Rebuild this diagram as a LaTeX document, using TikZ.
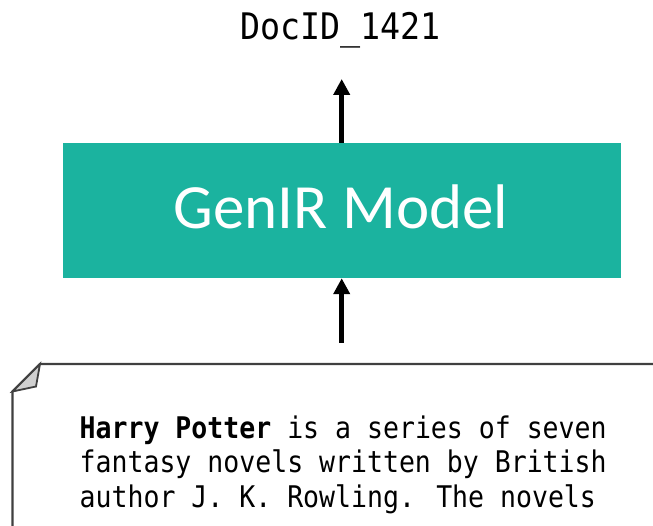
\documentclass[tikz,border=0pt]{standalone}
\usepackage{fontspec}
\usetikzlibrary{arrows.meta}
\newfontfamily\boxfont{Carlito}
\newfontfamily\codefont[FakeStretch=0.91]{DejaVu Sans Mono}
\newfontfamily\bodyfont[FakeStretch=0.89]{DejaVu Sans Mono}
\definecolor{genteal}{RGB}{27,179,159}
\definecolor{notegray}{RGB}{64,64,64}
\definecolor{flapgray}{RGB}{208,208,208}
\tikzset{
  modelbox/.style={fill=genteal, draw=none, inner sep=0pt},
  flow/.style={line width=4.5pt, -{Triangle[width=16pt,length=16pt]}},
  codeline/.style={inner sep=0pt, anchor=base west, font=\bodyfont\fontsize{29.8}{34.5}\selectfont},
  notebox/.style={draw=notegray, line width=2.4pt, fill=white, line join=miter},
}
\begin{document}
\begin{tikzpicture}[x=1pt,y=1pt]
\useasboundingbox (0,0) rectangle (653,526);
% model box
\path[modelbox] (63,248) rectangle (621,383);
\node[inner sep=0pt, minimum width=558pt, minimum height=135pt] (model) at (342,315.5) {};
\node[inner sep=0pt, anchor=base, text=white, font=\boxfont\fontsize{63}{70}\selectfont] (modeltxt) at (341,297) {GenIR Model};
% doc id
\node[inner sep=0pt, anchor=base, font=\codefont\fontsize{36.6}{40}\selectfont] (docid) at (340.5,486) {DocID\_1421};
\coordinate (tip) at (341.7,447);
% note
\draw[notebox] (40,162) -- (660,162) -- (660,-10) -- (12.5,-10) -- (12.5,134.5) -- cycle;
\draw[notebox, fill=flapgray, line width=1.8pt] (40,162) -- (36,139.5) -- (12.5,134.5) -- cycle;
\coordinate (src) at (341.7,183);
\node[codeline] (l1) at (79.5,87) {\textbf{Harry Potter} is a series of seven};
\node[codeline] (l2) at (79.5,53) {fantasy novels written by British};
\node[codeline] (l3) at (79.5,18.5) {author J. K. Rowling. The novels};
% arrows
\draw[flow] (src) -- (model.south -| src);
\draw[flow] (model.north -| tip) -- (tip);
\end{tikzpicture}
\end{document}
